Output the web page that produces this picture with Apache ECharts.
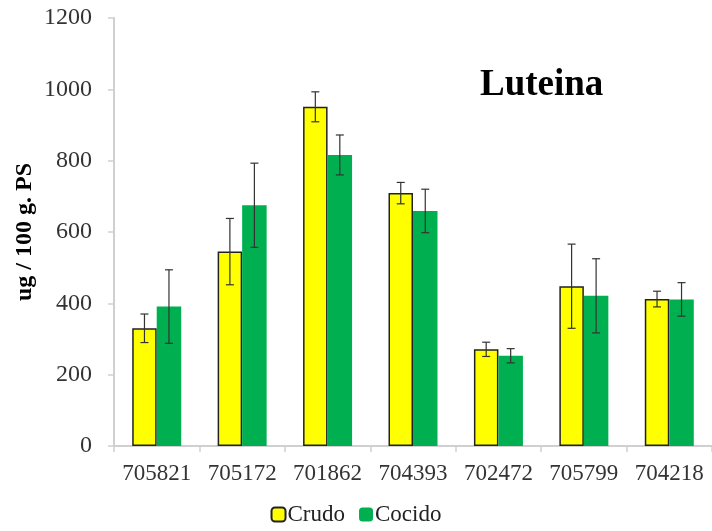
<!DOCTYPE html>
<html>
<head>
<meta charset="utf-8">
<script src="https://cdn.jsdelivr.net/npm/echarts@6/dist/echarts.min.js"></script>
<style>
  html, body { margin: 0; padding: 0; background: #fff; }
  #main { width: 712px; height: 531px; }
</style>
</head>
<body>
<div id="main"></div>
<script>
const categories = ['705821', '705172', '701862', '704393', '702472', '705799', '704218']
const crudo = [330, 545, 951, 709, 271, 448, 412]
const crudoErr = [40, 93, 42, 30, 20, 118, 22]
const cocido = [391, 675, 816, 659, 253, 421, 411]
const cocidoErr = [103, 118, 56, 61, 20, 104, 47]
const yTicks = [0, 200, 400, 600, 800, 1000, 1200]

const BAR_W = 24.5
const FONT = '"Liberation Serif", "Times New Roman", serif'

const chart = echarts.init(document.getElementById('main'))

// error bars as custom series, shifted to sit on each bar of the pair
function errorSeries(values, errs, shift) {
  return {
    type: 'custom',
    z: 10,
    silent: true,
    data: values.map((v, i) => [i, v - errs[i], v + errs[i]]),
    encode: { x: 0, y: [1, 2] },
    renderItem: function (params, api) {
      const lo = api.coord([api.value(0), api.value(1)])
      const hi = api.coord([api.value(0), api.value(2)])
      const x = lo[0] + shift
      const cap = 4
      const style = { stroke: '#333', lineWidth: 1.2 }
      return {
        type: 'group',
        children: [
          { type: 'line', shape: { x1: x, y1: hi[1], x2: x, y2: lo[1] }, style: style },
          { type: 'line', shape: { x1: x - cap, y1: hi[1], x2: x + cap, y2: hi[1] }, style: style },
          { type: 'line', shape: { x1: x - cap, y1: lo[1], x2: x + cap, y2: lo[1] }, style: style }
        ]
      }
    }
  }
}

chart.setOption({
  animation: false,
  textStyle: { fontFamily: FONT },
  title: {
    text: 'Luteina',
    left: 475,
    top: 62,
    textStyle: { fontFamily: FONT, fontSize: 37, fontWeight: 'bold', color: '#000' }
  },
  legend: {
    data: ['Crudo', 'Cocido'],
    bottom: 0,
    left: 'center',
    itemWidth: 14,
    itemHeight: 14,
    itemGap: 14,
    textStyle: { fontFamily: FONT, fontSize: 23, color: '#222', padding: [0, 0, 0, -3] }
  },
  grid: { left: 114, right: 0, top: 18, bottom: 85 },
  xAxis: {
    type: 'category',
    data: categories,
    axisLine: { lineStyle: { color: '#d0d0d0', width: 2 } },
    axisTick: { show: true, length: 6, lineStyle: { color: '#d0d0d0', width: 1.5 } },
    axisLabel: { interval: 0, fontFamily: FONT, fontSize: 23, color: '#333', margin: 16 }
  },
  yAxis: {
    type: 'value',
    min: 0,
    max: 1200,
    interval: 200,
    name: 'ug / 100 g. PS',
    nameLocation: 'middle',
    nameGap: 77,
    nameMoveOverlap: false,
    nameTextStyle: { fontFamily: FONT, fontSize: 24, fontWeight: 'bold', color: '#000' },
    splitLine: { show: false },
    axisLine: { show: true, lineStyle: { color: '#d0d0d0', width: 2 } },
    axisTick: { show: true, length: 6, lineStyle: { color: '#d0d0d0', width: 1.5 } },
    axisLabel: {
      fontFamily: FONT, fontSize: 24, color: '#333', margin: 22,
      formatter: v => yTicks.includes(v) ? String(v) : ''
    }
  },
  series: [
    {
      name: 'Crudo',
      type: 'bar',
      data: crudo,
      barWidth: BAR_W,
      barGap: '0%',
      itemStyle: { color: '#ffff00', borderColor: '#222', borderWidth: 1.5 }
    },
    {
      name: 'Cocido',
      type: 'bar',
      data: cocido,
      barWidth: BAR_W,
      barGap: '0%',
      itemStyle: { color: '#00b050' }
    },
    errorSeries(crudo, crudoErr, -BAR_W / 2),
    errorSeries(cocido, cocidoErr, BAR_W / 2)
  ]
})
</script>
</body>
</html>
